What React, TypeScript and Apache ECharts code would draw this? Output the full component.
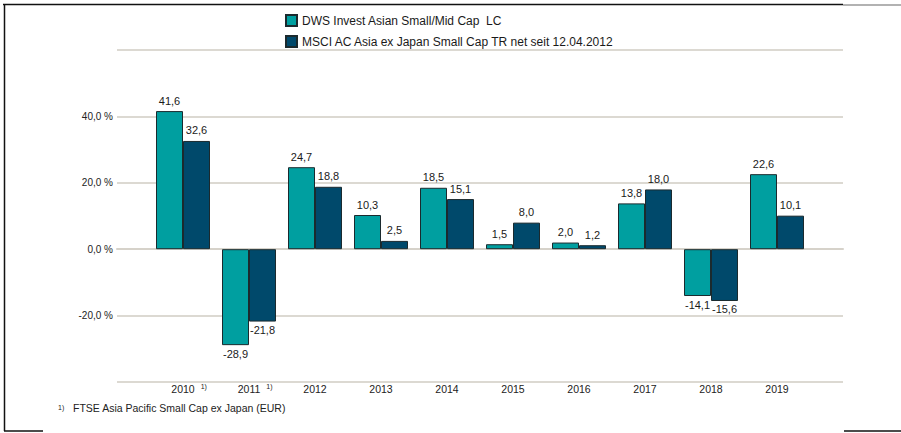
import React, { useEffect, useRef } from "react";
import * as echarts from "echarts";

const categories = ["", "2010", "2011", "2012", "2013", "2014", "2015", "2016", "2017", "2018", "2019", ""];
const footnoted = ["2010", "2011"];
const fundValues = [41.6, -28.9, 24.7, 10.3, 18.5, 1.5, 2.0, 13.8, -14.1, 22.6];
const benchValues = [32.6, -21.8, 18.8, 2.5, 15.1, 8.0, 1.2, 18.0, -15.6, 10.1];
const seriesNames = [
  "DWS Invest Asian Small/Mid Cap  LC",
  "MSCI AC Asia ex Japan Small Cap TR net seit 12.04.2012",
];
const yTicksShown = [40, 20, 0, -20];
const footnoteText = "FTSE Asia Pacific Small Cap ex Japan (EUR)";

const FONT = "'Liberation Sans', Arial, sans-serif";
const fmt = (v: number) => v.toFixed(1).replace(".", ",");

function toData(values: number[]) {
  const out: any[] = ["-"];
  values.forEach((v) => {
    out.push({
      value: v,
      label: { position: v < 0 ? "bottom" : "top", distance: v < 0 ? 3 : 5 },
    });
  });
  out.push("-");
  return out;
}

export default function App() {
  const ref = useRef<HTMLDivElement>(null);
  useEffect(() => {
    if (!ref.current) return;
    const chart = echarts.init(ref.current, null, { renderer: "svg" });
    const labelStyle = {
      show: true,
      fontFamily: FONT,
      fontSize: 11,
      color: "#1a1a1a",
      formatter: (p: any) => fmt(p.value),
    };
    chart.setOption({
      animation: false,
      backgroundColor: "#ffffff",
      textStyle: { fontFamily: FONT },
      legend: {
        left: 280,
        top: 9,
        orient: "vertical",
        itemWidth: 11,
        itemHeight: 11,
        itemGap: 8,
        icon: "rect",
        textStyle: { fontFamily: FONT, fontSize: 12, color: "#1a1a1a" },
        data: seriesNames,
      },
      grid: { left: 117, right: 58, top: 50, bottom: 51 },
      xAxis: {
        type: "category",
        data: categories,
        boundaryGap: false,
        axisLine: { show: true, lineStyle: { color: "#d6d2ca", width: 2 } },
        axisTick: { show: false },
        splitLine: { show: false },
        axisLabel: {
          interval: 0,
          margin: 1,
          fontFamily: FONT,
          fontSize: 10.5,
          color: "#222",
          formatter: (v: string) =>
            footnoted.includes(v) ? `{pad|1)}${v}{sup|1)}` : v,
          rich: {
            sup: { fontSize: 7, color: "#222", padding: [0, 0, 5, 6], fontFamily: FONT },
            pad: { fontSize: 7, color: "rgba(0,0,0,0)", padding: [0, 6, 5, 0], fontFamily: FONT },
          },
        },
      },
      yAxis: {
        type: "value",
        min: -40,
        max: 60,
        interval: 20,
        axisLine: { show: false },
        axisTick: { show: false },
        splitLine: { show: true, lineStyle: { color: "#dcd9d2", width: 2 } },
        axisLabel: {
          margin: 4,
          fontFamily: FONT,
          fontSize: 10,
          color: "#222",
          formatter: (v: number) => (yTicksShown.includes(v) ? `${fmt(v)} %` : ""),
        },
      },
      series: [
        {
          name: seriesNames[0],
          type: "bar",
          barWidth: 27,
          barGap: "0%",
          data: toData(fundValues),
          itemStyle: { color: "#009fa0", borderColor: "#1b2a2e", borderWidth: 1 },
          label: labelStyle,
        },
        {
          name: seriesNames[1],
          type: "bar",
          barWidth: 27,
          barGap: "0%",
          data: toData(benchValues),
          itemStyle: { color: "#00496b", borderColor: "#1b2a2e", borderWidth: 1 },
          label: labelStyle,
        },
      ],
      graphic: [
        { type: "line", shape: { x1: 3, y1: 4.5, x2: 843, y2: 4.5 }, style: { stroke: "#111", lineWidth: 1.5 } },
        { type: "line", shape: { x1: 843, y1: 5, x2: 901, y2: 5 }, style: { stroke: "#999", lineWidth: 1.5 } },
        { type: "line", shape: { x1: 4.5, y1: 4, x2: 4.5, y2: 431 }, style: { stroke: "#111", lineWidth: 1.5 } },
        { type: "line", shape: { x1: 4, y1: 431, x2: 43, y2: 431 }, style: { stroke: "#111", lineWidth: 1.5 } },
        { type: "line", shape: { x1: 844, y1: 431, x2: 901, y2: 431 }, style: { stroke: "#111", lineWidth: 1.5 } },
        {
          type: "text",
          x: 58,
          y: 404,
          style: { text: "1)", fontSize: 7, fill: "#222", fontFamily: FONT },
        },
        {
          type: "text",
          x: 73,
          y: 402,
          style: { text: footnoteText, fontSize: 10.5, fill: "#222", fontFamily: FONT },
        },
      ],
    });
    return () => chart.dispose();
  }, []);
  return (
    <div
      ref={ref}
      style={{ position: "fixed", left: 0, top: 0, width: 901, height: 433, background: "#fff" }}
    />
  );
}
